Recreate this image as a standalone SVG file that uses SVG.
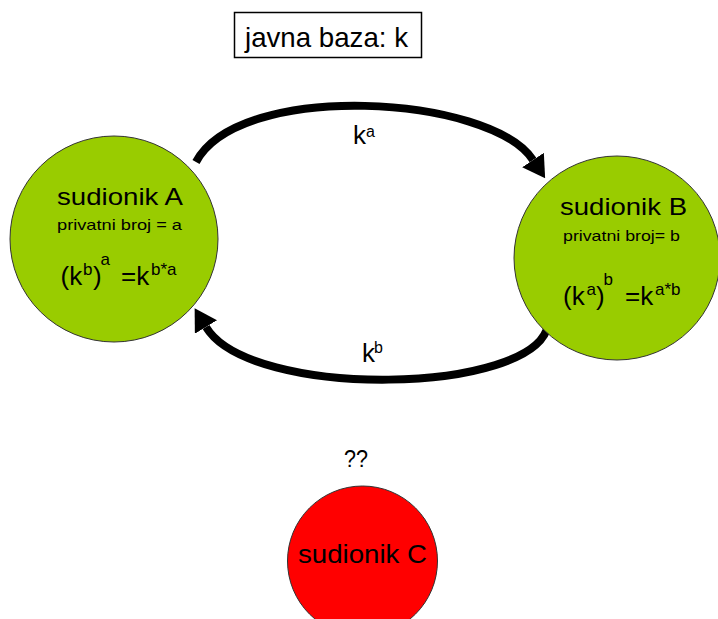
<svg xmlns="http://www.w3.org/2000/svg" width="718" height="619" viewBox="0 0 718 619">
<style>
text{font-family:"Liberation Sans",Arial,sans-serif;fill:#000}
.node{stroke:#333;stroke-width:1}
.green{fill:#99CC00}
.red{fill:#FF0000}
.conn{fill:none;stroke:#000;stroke-width:8}
.big{font-size:26px}
.sup{font-size:17px}
.title{font-size:24px}
.sub{font-size:15px}
</style>
<defs>
<marker id="ah" markerUnits="userSpaceOnUse" markerWidth="22" markerHeight="26" refX="0" refY="13" orient="auto" viewBox="0 0 22 26">
<path d="M0,0 L22,13 L0,26 z" fill="#000"/>
</marker>
</defs>
<rect width="718" height="619" fill="#fff"/>
<g id="base">
<rect x="234.5" y="12.5" width="187" height="45" fill="#fff" stroke="#000" stroke-width="1.5"/>
<text x="245" y="47" font-size="28" textLength="163" lengthAdjust="spacingAndGlyphs">javna baza: k</text>
</g>
<g id="connectors">
<path class="conn" d="M196,162 C240,80 490,95 533,160" marker-end="url(#ah)"/>
<path class="conn" d="M548,325 C535,395 250,400 206,327" marker-end="url(#ah)"/>
<g id="label-ka">
<text x="353" y="144" font-size="26">k</text>
<text x="366" y="137" font-size="16">a</text>
</g>
<g id="label-kb">
<text x="362" y="362" font-size="26">k</text>
<text x="374" y="353" font-size="16">b</text>
</g>
</g>
<g id="nodeA">
<ellipse class="node green" cx="114" cy="239" rx="104" ry="103"/>
<text class="title" x="57" y="205" textLength="126" lengthAdjust="spacingAndGlyphs">sudionik A</text>
<text class="sub" x="57" y="230" textLength="125" lengthAdjust="spacingAndGlyphs">privatni broj = a</text>
<text class="big" x="60.5" y="285">(k</text>
<text class="sup" x="83" y="275">b</text>
<text class="big" x="93" y="285">)</text>
<text class="sup" x="100.5" y="265">a</text>
<text class="big" x="121" y="285">=k</text>
<text class="sup" x="151" y="275">b*a</text>
</g>
<g id="nodeB">
<ellipse class="node green" cx="617" cy="258" rx="103" ry="102"/>
<text class="title" x="560" y="215" textLength="127" lengthAdjust="spacingAndGlyphs">sudionik B</text>
<text class="sub" x="563" y="241" textLength="117" lengthAdjust="spacingAndGlyphs">privatni broj= b</text>
<text class="big" x="563" y="305">(k</text>
<text class="sup" x="586.5" y="295">a</text>
<text class="big" x="596" y="305">)</text>
<text class="sup" x="603.5" y="285">b</text>
<text class="big" x="625" y="305">=k</text>
<text class="sup" x="655" y="295">a*b</text>
</g>
<g id="nodeC">
<text x="344" y="467" font-size="24" textLength="24" lengthAdjust="spacingAndGlyphs">??</text>
<circle class="node red" cx="362.5" cy="561" r="75"/>
<text x="298" y="563" font-size="26" textLength="129" lengthAdjust="spacingAndGlyphs">sudionik C</text>
</g>
</svg>
